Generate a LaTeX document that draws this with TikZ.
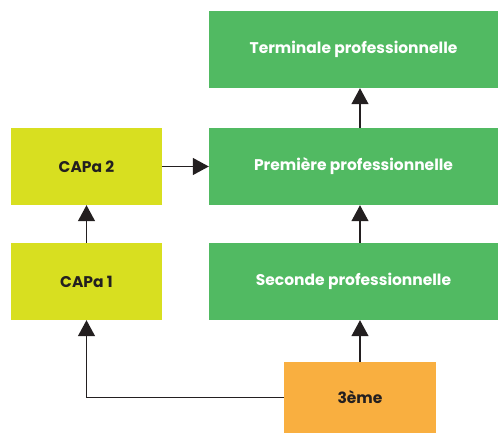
\documentclass[tikz,border=0pt]{standalone}
\usepackage{fontspec}
\setmainfont{Poppins}
\usetikzlibrary{arrows.meta}

\definecolor{vertpro}{RGB}{81,186,98}
\definecolor{jaunecap}{RGB}{216,223,32}
\definecolor{orange3}{RGB}{249,175,64}
\definecolor{noir}{RGB}{35,31,32}

\begin{document}
\begin{tikzpicture}[x=1pt,y=-1pt,
    classe/.style={inner sep=0pt, font=\bfseries\fontsize{15.5}{18}\selectfont},
    bac/.style={classe, fill=vertpro, text=white, minimum width=289pt, minimum height=77pt},
    capa/.style={classe, fill=jaunecap, text=noir, minimum width=151pt, minimum height=77pt},
    fleche/.style={draw=noir, line width=1.2pt, -{Triangle[length=16pt,width=17pt]}}]
    \useasboundingbox (0,0) rectangle (499,433);

    % filiere bac pro
    \node[bac] (term) at (353.5,49.5)  {Terminale professionnelle};
    \node[bac] (prem) at (353.5,166.5) {Première professionnelle};
    \node[bac] (sec)  at (353.5,281.5) {Seconde professionnelle};

    % filiere CAPa
    \node[capa] (cap2) at (86.5,166.5) {CAPa 2};
    \node[capa] (cap1) at (86.5,281.5) {CAPa 1};

    \node[classe, fill=orange3, text=noir, minimum width=152pt, minimum height=71pt] (trois) at (360,397.5) {3ème};

    \draw[fleche] (trois.north) -- (sec.south -| trois.north);
    \draw[fleche] (sec.north -| trois.north) -- (prem.south -| trois.north);
    \draw[fleche] (prem.north -| trois.north) -- (term.south -| trois.north);
    \draw[fleche] (cap2.east) -- (prem.west);
    \draw[fleche] (cap1.north) -- (cap2.south);
    \draw[fleche] (trois.west) -| (cap1.south);
\end{tikzpicture}
\end{document}
